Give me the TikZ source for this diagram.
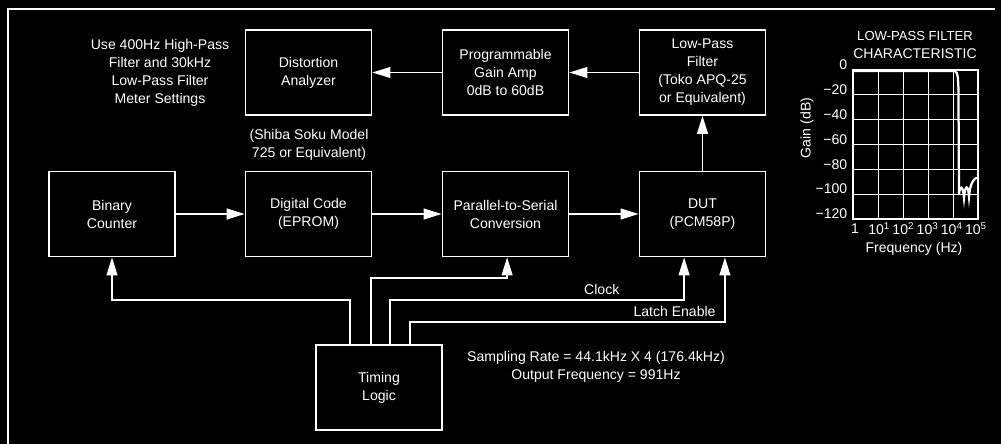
\documentclass[tikz,border=0pt]{standalone}
\usepackage{fontspec}
\setmainfont{Liberation Sans}
\usetikzlibrary{arrows.meta}

\begin{document}
\begin{tikzpicture}[x=0.025cm, y=-0.025cm,
    every node/.style={text=white, font=\fontsize{10}{12.8}\selectfont, align=center},
    block/.style={draw=white, line width=1.2pt, minimum width=3.15cm, minimum height=2.125cm, inner sep=2pt},
    sig/.style={draw=white, line width=1.1pt, -{Triangle[length=4.5mm, width=2.7mm]}},
    frame/.style={draw=white, line width=1.2pt},
    gridline/.style={draw=white, line width=0.5pt},
    response/.style={draw=white, line width=1.6pt, line cap=round}
]
\fill[black] (0,0) rectangle (1001,444);
\useasboundingbox (0,0) rectangle (1001,444);
\draw[frame] (8,444) -- (8,9) -- (995,9);

% top row
\node[block] (dis) at (308.5,72.5) {Distortion\\Analyzer};
\node[block] (pga) at (505.5,72.5) {Programmable\\Gain Amp\\0dB to 60dB};
\node[block] (lpf) at (702.5,72.5) {Low-Pass\\Filter\\(Toko APQ-25\\or Equivalent)};

% bottom row
\node[block] (bin) at (112,214) {Binary\\Counter};
\node[block] (dig) at (308.5,214) {Digital Code\\(EPROM)};
\node[block] (p2s) at (505.5,214) {Parallel-to-Serial\\Conversion};
\node[block] (dut) at (702.5,214) {DUT\\(PCM58P)};
\node[block] (tim) at (379,387.5) {Timing\\Logic};

% notes
\node (meter) at (160,73) {Use 400Hz High-Pass\\Filter and 30kHz\\Low-Pass Filter\\Meter Settings};
\node (shiba) at (309,145) {(Shiba Soku Model\\725 or Equivalent)};
\node (rate) at (596,367) {Sampling Rate = 44.1kHz X 4 (176.4kHz)\\Output Frequency = 991Hz};

% signal path
\draw[sig] (bin) -- (dig);
\draw[sig] (dig) -- (p2s);
\draw[sig] (p2s) -- (dut);
\draw[sig] (dut) -- (lpf);
\draw[sig] (lpf) -- (pga);
\draw[sig] (pga) -- (dis);

% timing lines
\draw[sig] (tim.north west) ++(35,0) -- ++(0,-44) -| (bin.south);
\draw[sig] (tim.north west) ++(56,0) -- ++(0,-66) -| ([xshift=0.04cm]p2s.south);
\draw[sig] (tim.north west) ++(75,0) -- ++(0,-44) -| node[pos=0.36, above]{Clock} ([xshift=-0.46cm]dut.south);
\draw[sig] (tim.north west) ++(95,0) -- ++(0,-22) -| node[pos=0.42, above]{Latch Enable} ([xshift=0.56cm]dut.south);

% filter characteristic
\node (title) at (915,45) {\fontsize{9.3}{12.2}\selectfont LOW-PASS FILTER\\CHARACTERISTIC};
\foreach \i in {1,...,4}
    \draw[gridline] (853+25*\i,70) -- (853+25*\i,219);
\foreach \j in {1,...,5}
    \draw[gridline] (853,{70+24.83*\j}) -- (978,{70+24.83*\j});
\draw[frame, line width=1pt] (853,70) rectangle (978,219);
\foreach \v [count=\j from 0] in {0,−20,−40,−60,−80,−100,−120}
    \node[anchor=east, inner sep=1pt] at (849,{70+24.83*\j-5}) {\v};
\foreach \t [count=\i from 0] in {1,10\textsuperscript{1},10\textsuperscript{2},10\textsuperscript{3},10\textsuperscript{4},10\textsuperscript{5}}
    \node at ({855+24.2*\i},229) {\t};
\node (freq) at (914,249) {Frequency (Hz)};
\node[rotate=90] (gain) at (807,128) {Gain (dB)};
\draw[response] (854,71) -- (955,71) .. controls (958,72) and (958.5,80) .. (958.5,100)
    -- (959,194) .. controls (960,185) and (963,185) .. (964,198)
    .. controls (965,185) and (968,183) .. (969,197)
    .. controls (970,184) and (973,180) .. (976,178);

\end{tikzpicture}
\end{document}
